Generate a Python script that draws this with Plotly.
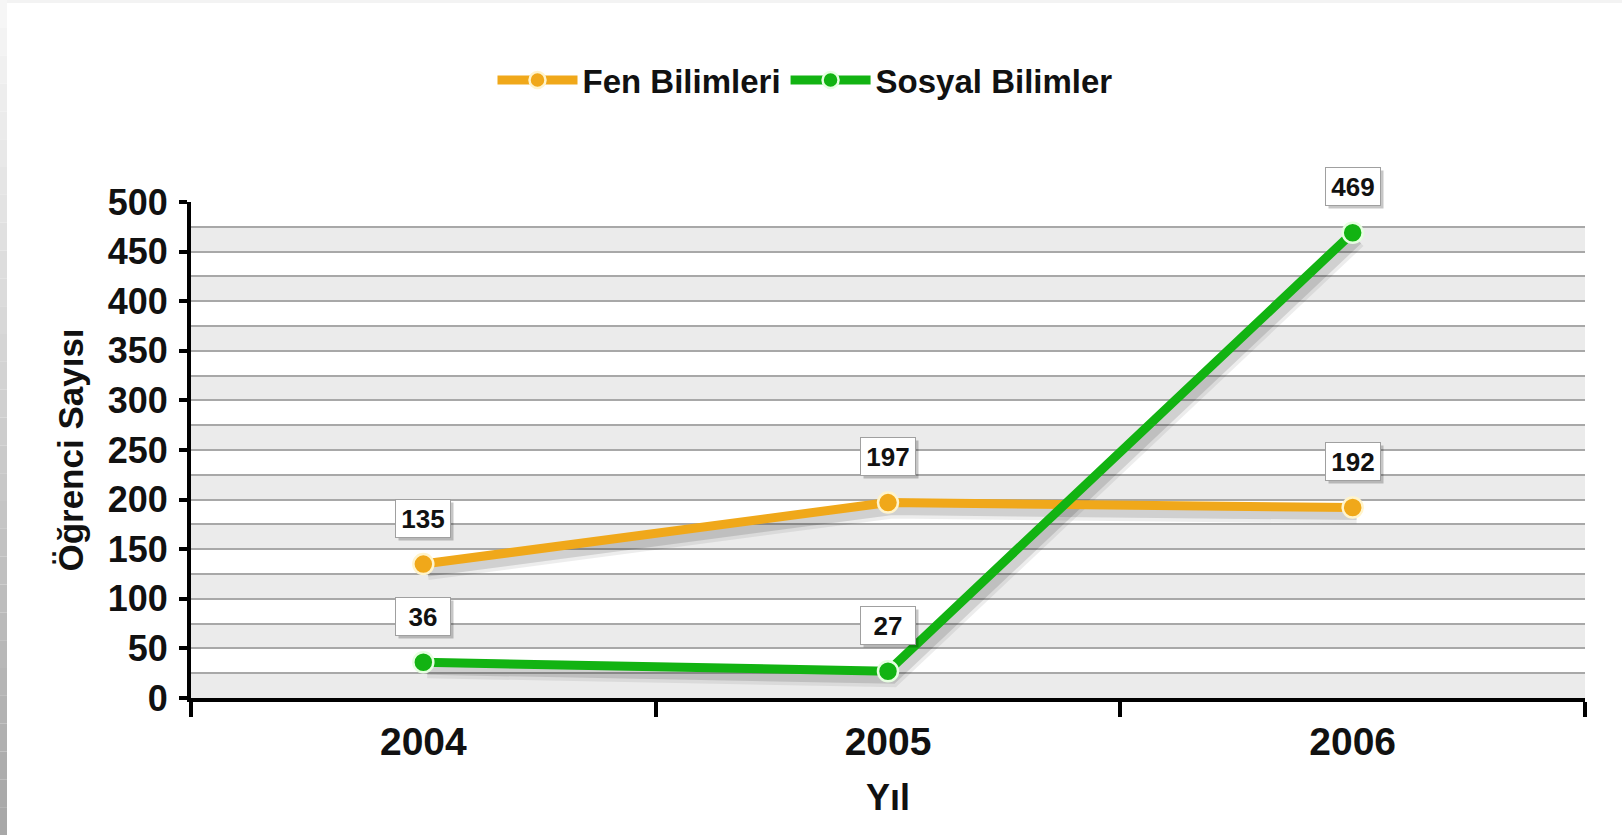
import plotly.graph_objects as go

# ---- data ----
years = ["2004", "2005", "2006"]
fen = [135, 197, 192]
sosyal = [36, 27, 469]
series_names = ["Fen Bilimleri", "Sosyal Bilimler"]
y_ticks = [0, 50, 100, 150, 200, 250, 300, 350, 400, 450, 500]

# ---- styles ----
W, H = 1622, 835
OFF = 0  # page body margin removed via post_script
ML, MR, MT, MB = 191 - OFF, 1622 + OFF - 1585, 202 - OFF, 835 + OFF - 698
ORANGE = "#F0A81A"
GREEN = "#12B312"
FONT = "Liberation Sans, Arial, Helvetica, sans-serif"
YMAX = 500
plot_w = W - ML - MR
plot_h = H - MT - MB

# shadow offsets (pixels -> axis units)
sx = 4 * 3 / plot_w
sy = 6 * YMAX / plot_h

fig = go.Figure()

# shadows on the base (hidden) axes, shifted ranges
for vals in (fen, sosyal):
    for w, a in ((20, 0.07), (13, 0.12)):
        fig.add_trace(go.Scatter(
            x=years, y=vals, mode="lines", xaxis="x", yaxis="y",
            line=dict(color=f"rgba(0,0,0,{a})", width=w),
            showlegend=False, hoverinfo="skip"))

# real series on the visible overlay axes
for name, vals, col, edge in ((series_names[0], fen, ORANGE, "#FFF4CC"),
                              (series_names[1], sosyal, GREEN, "#E6FFE0")):
    fig.add_trace(go.Scatter(
        x=years, y=vals, mode="lines+markers", name=name,
        xaxis="x2", yaxis="y2",
        line=dict(color=col, width=9),
        marker=dict(size=20, color=col, line=dict(color=edge, width=2.5))))

# alternating background bands
shapes = []
step = 25
for k in range(0, YMAX // step):
    if k % 2 == 0:
        shapes.append(dict(type="rect", xref="paper", yref="y2",
                           x0=0, x1=1, y0=k * step, y1=(k + 1) * step,
                           fillcolor="#EBEBEB", line=dict(width=0), layer="below"))

# page coords -> paper coords helpers
def px2x(px):
    return (px - OFF - ML) / plot_w

def py2y(py):
    return 1 - (py - OFF - MT) / plot_h

# left edge gradient strip and thin top strip
n = 30
for i in range(n):
    t = i / (n - 1)
    g = int(246 - t * (246 - 168))
    shapes.append(dict(type="rect", xref="paper", yref="paper",
                       x0=px2x(0), x1=px2x(7),
                       y0=py2y((i + 1) * H / n), y1=py2y(i * H / n),
                       fillcolor=f"rgb({g},{g},{g})", line=dict(width=0)))
shapes.append(dict(type="rect", xref="paper", yref="paper",
                   x0=px2x(7), x1=px2x(W), y0=py2y(3), y1=py2y(0),
                   fillcolor="#F3F3F3", line=dict(width=0)))

# data labels with drop shadow boxes
annotations = []
for vals in (fen, sosyal):
    for i, yv in enumerate(vals):
        annotations.append(dict(
            x=i, y=yv, xref="x2", yref="y2", text=str(yv), showarrow=False,
            yshift=43, xshift=3, width=48, height=31, borderpad=3,
            bgcolor="rgba(0,0,0,0.22)", bordercolor="rgba(0,0,0,0)", borderwidth=1,
            font=dict(family=FONT, size=26, color="rgba(0,0,0,0)", weight="bold")))
        annotations.append(dict(
            x=i, y=yv, xref="x2", yref="y2", text=str(yv), showarrow=False,
            yshift=46, width=48, height=31, borderpad=3,
            bgcolor="#FFFFFF", bordercolor="#A0A0A0", borderwidth=1,
            font=dict(family=FONT, size=26, color="#111111", weight="bold")))

fig.update_layout(
    width=W, height=H,
    margin=dict(l=ML, r=MR, t=MT, b=MB),
    paper_bgcolor="white", plot_bgcolor="white",
    font=dict(family=FONT, color="#111111"),
    showlegend=True,
    legend=dict(orientation="h", x=px2x(805), y=py2y(80), xanchor="center", yanchor="middle",
                font=dict(family=FONT, size=33, color="#111111", weight="bold"),
                itemwidth=80, bgcolor="rgba(0,0,0,0)"),
    xaxis=dict(type="category", range=[-0.5 - sx, 2.5 - sx], visible=False),
    yaxis=dict(range=[sy, YMAX + sy], visible=False),
    xaxis2=dict(type="category", overlaying="x", side="bottom",
                range=[-0.5, 2.5], tickson="boundaries",
                showline=True, linecolor="#000000", linewidth=4,
                ticks="outside", ticklen=15, tickwidth=4, tickcolor="#000000",
                showgrid=False, zeroline=False,
                tickfont=dict(family=FONT, size=39, color="#111111", weight="bold"),
                ticklabelstandoff=6,
                title=dict(text="Yıl", standoff=24,
                           font=dict(family=FONT, size=36, color="#111111", weight="bold"))),
    yaxis2=dict(overlaying="y", side="left", range=[0, YMAX],
                tickvals=y_ticks, ticktext=[str(v) for v in y_ticks],
                showline=True, linecolor="#000000", linewidth=4,
                ticks="outside", ticklen=8, tickwidth=4, tickcolor="#000000",
                showgrid=True, gridcolor="#A8A8A8", gridwidth=1.5,
                minor=dict(tickvals=[v + 25 for v in y_ticks[:-1]], showgrid=True,
                           gridcolor="#A8A8A8", gridwidth=1.5, ticks=""),
                zeroline=False,
                tickfont=dict(family=FONT, size=36, color="#111111", weight="bold"),
                ticklabelstandoff=4,
                title=dict(text="Öğrenci Sayısı", standoff=14,
                           font=dict(family=FONT, size=35, color="#111111", weight="bold"))),
    shapes=shapes,
    annotations=annotations,
)

fig.write_html("out.html",
               config={"displayModeBar": False},
               post_script="document.body.style.margin='0px';document.body.style.overflow='hidden';")
